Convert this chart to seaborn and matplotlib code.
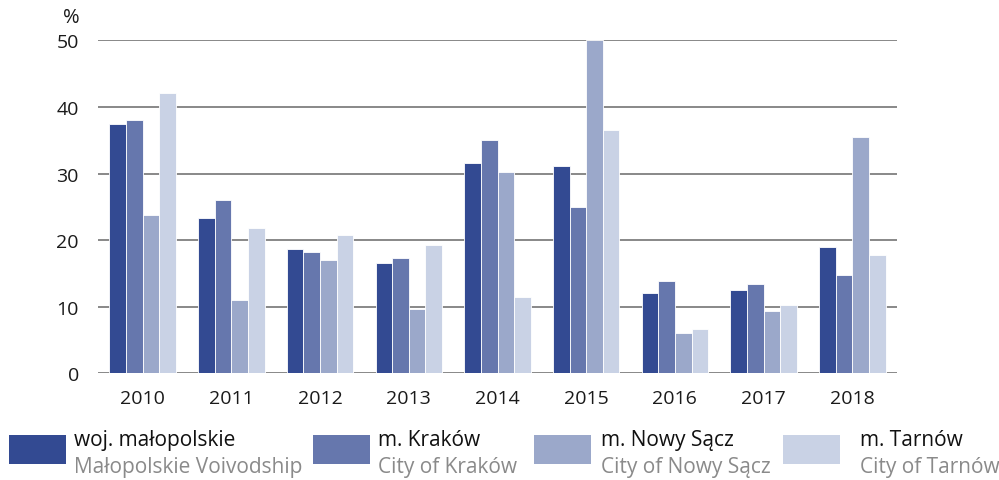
import pandas as pd
import matplotlib
matplotlib.use("Agg")
import matplotlib.pyplot as plt
import seaborn as sns
from matplotlib.patches import Rectangle

# data
years = ['2010', '2011', '2012', '2013', '2014', '2015', '2016', '2017', '2018']
malopolskie = [37.4, 23.3, 18.6, 16.6, 31.6, 31.2, 12.0, 12.5, 18.9]
krakow = [38.1, 26.0, 18.2, 17.3, 35.1, 25.0, 13.8, 13.4, 14.8]
nowy_sacz = [23.8, 11.0, 17.0, 9.7, 30.2, 50.0, 6.0, 9.3, 35.5]
tarnow = [42.1, 21.8, 20.7, 19.3, 11.5, 36.5, 6.7, 10.3, 17.8]

series_pl = ['woj. małopolskie', 'm. Kraków', 'm. Nowy Sącz', 'm. Tarnów']
series_en = ['Małopolskie Voivodship', 'City of Kraków', 'City of Nowy Sącz', 'City of Tarnów']
colors = ['#334a92', '#6677ad', '#9ba8ca', '#c9d2e5']

rows = []
for name, vals in zip(series_pl, [malopolskie, krakow, nowy_sacz, tarnow]):
    for y, v in zip(years, vals):
        rows.append({'year': y, 'series': name, 'value': v})
df = pd.DataFrame(rows)

sns.set_style('white')
plt.rcParams['font.family'] = ['Open Sans', 'DejaVu Sans']

fig = plt.figure(figsize=(9.99, 4.81), dpi=100)
ax = fig.add_axes([0.0984, 0.2218, 0.7992, 0.6923])

sns.barplot(data=df, x='year', y='value', hue='series', order=years,
            hue_order=series_pl, palette=colors, saturation=1, width=0.75,
            edgecolor='white', linewidth=0.6, legend=False, ax=ax)

ax.set_ylim(0, 50)
ax.set_xlim(-0.5, 8.5)
ax.set_yticks([0, 10, 20, 30, 40, 50])
ax.yaxis.grid(True, color='#7f7f7f', linewidth=1.3)
ax.set_axisbelow(True)
for s in ax.spines.values():
    s.set_visible(False)
ax.tick_params(axis='both', length=0, labelsize=14, colors='#1a1a1a')
ax.tick_params(axis='y', pad=14)
ax.tick_params(axis='x', pad=11)
ax.set_xlabel(None)
ax.set_ylabel(None)

fig.text(0.063, 0.952, '%', fontsize=14.5, color='#1a1a1a', va='baseline')

# legend: colour box + two-line label (Polish / English)
patch_x = [9, 313, 534, 783]
text_x = [74, 378, 601, 860]
for px, tx, c, pl, en in zip(patch_x, text_x, colors, series_pl, series_en):
    fig.patches.append(Rectangle((px / 999, 1 - 465 / 481), 57 / 999, 29 / 481,
                                 transform=fig.transFigure, facecolor=c,
                                 edgecolor='none'))
    fig.text(tx / 999, 1 - 446.5 / 481, pl, fontsize=15, color='#111111',
             va='baseline')
    fig.text(tx / 999, 1 - 473.5 / 481, en, fontsize=15, color='#8a8a8a',
             va='baseline')

plt.savefig('out.png', dpi=100)
